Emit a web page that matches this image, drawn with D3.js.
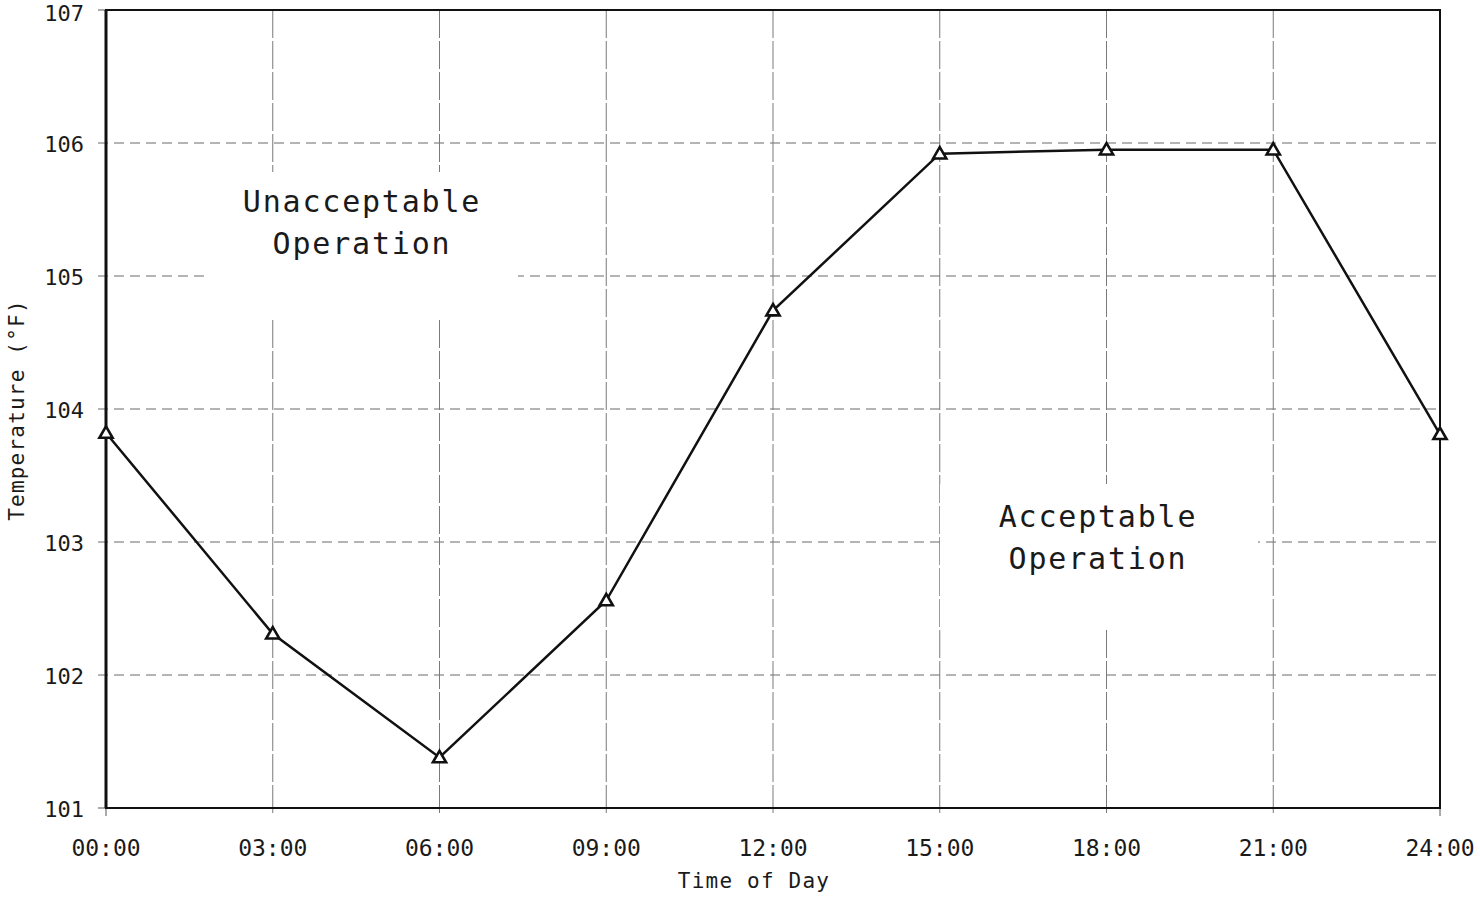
<!DOCTYPE html>
<html>
<head>
<meta charset="utf-8">
<script src="https://cdn.jsdelivr.net/npm/d3@7"></script>
<style>
  html, body { margin: 0; padding: 0; background: #fff; }
  svg { display: block; }
  text { font-family: "DejaVu Sans Mono", "Liberation Mono", monospace; fill: #1a1a1a; }
</style>
</head>
<body>
<svg id="chart" width="1480" height="898"></svg>
<script>
// Daily temperature profile, hours since midnight vs °F
const hours = [0, 3, 6, 9, 12, 15, 18, 21, 24];
const temps = [103.82, 102.31, 101.38, 102.56, 104.74, 105.92, 105.95, 105.95, 103.81];
const xTickLabels = ["00:00", "03:00", "06:00", "09:00", "12:00", "15:00", "18:00", "21:00", "24:00"];
const yTicks = [101, 102, 103, 104, 105, 106, 107];

const svg = d3.select("#chart");
const m = { left: 106, right: 1440, top: 10, bottom: 808 };

const x = d3.scaleLinear().domain([0, 24]).range([m.left, m.right]);
const y = d3.scaleLinear().domain([101, 107]).range([m.bottom, m.top]);

// Grid: dashed horizontals, nearly solid verticals, short ticks outside the frame
const grid = svg.append("g");
grid.selectAll("line.h").data(yTicks.slice(1, -1)).join("line")
  .attr("x1", m.left - 8).attr("x2", m.right)
  .attr("y1", d => y(d)).attr("y2", d => y(d))
  .attr("stroke", "#6a6a6a").attr("stroke-width", 1)
  .attr("stroke-dasharray", "10,6");
grid.selectAll("line.v").data(hours.slice(1, -1)).join("line")
  .attr("x1", d => x(d)).attr("x2", d => x(d))
  .attr("y1", m.top).attr("y2", m.bottom + 8)
  .attr("stroke", "#7a7a7a").attr("stroke-width", 1)
  .attr("stroke-dasharray", "28,3");
// ticks at the frame ends
grid.selectAll("line.yt").data([101, 107]).join("line")
  .attr("x1", m.left - 8).attr("x2", m.left)
  .attr("y1", d => y(d)).attr("y2", d => y(d))
  .attr("stroke", "#555").attr("stroke-width", 1);
grid.selectAll("line.xt").data([0, 24]).join("line")
  .attr("x1", d => x(d)).attr("x2", d => x(d))
  .attr("y1", m.bottom).attr("y2", m.bottom + 8)
  .attr("stroke", "#555").attr("stroke-width", 1);

// Region labels sit on white panels that break the grid
const regions = [
  { lines: ["Unacceptable", "Operation"], cx: 362, top: 172, x0: 205, x1: 518, bottom: 320, base: 212 },
  { lines: ["Acceptable", "Operation"], cx: 1098, top: 484, x0: 940, x1: 1258, bottom: 630, base: 527 }
];
regions.forEach(r => {
  svg.append("rect")
    .attr("x", r.x0).attr("y", r.top)
    .attr("width", r.x1 - r.x0).attr("height", r.bottom - r.top)
    .attr("fill", "#fff");
  r.lines.forEach((t, i) => {
    svg.append("text")
      .attr("x", r.cx).attr("y", r.base + i * 42)
      .attr("text-anchor", "middle")
      .attr("font-size", 30)
      .attr("letter-spacing", 1.8)
      .text(t);
  });
});

// Frame
svg.append("rect")
  .attr("x", m.left).attr("y", m.top)
  .attr("width", m.right - m.left).attr("height", m.bottom - m.top)
  .attr("fill", "none").attr("stroke", "#111").attr("stroke-width", 2);
svg.append("line")
  .attr("x1", m.left).attr("x2", m.left).attr("y1", m.top).attr("y2", m.bottom)
  .attr("stroke", "#111").attr("stroke-width", 3);

// Axis labels (the top one sits a touch lower so it clears the page edge)
svg.append("g").selectAll("text").data(yTicks).join("text")
  .attr("x", 84).attr("y", d => y(d) + (d === 107 ? 3 : 1)).attr("dy", "0.36em")
  .attr("text-anchor", "end").attr("font-size", 22)
  .attr("font-family", "'DejaVu Sans', sans-serif")
  .attr("font-weight", 300)
  .text(d => d);
svg.append("g").selectAll("text").data(hours).join("text")
  .attr("x", d => x(d)).attr("y", 856)
  .attr("text-anchor", "middle").attr("font-size", 23)
  .text((d, i) => xTickLabels[i]);

svg.append("text")
  .attr("x", (m.left + m.right) / 2 - 19).attr("y", 888)
  .attr("text-anchor", "middle").attr("font-size", 21).attr("letter-spacing", 1.2)
  .text("Time of Day");
svg.append("text")
  .attr("transform", "translate(24,410) rotate(-90)")
  .attr("text-anchor", "middle").attr("font-size", 21).attr("letter-spacing", 1.2)
  .text("Temperature (°F)");

// Series line and triangle markers
const pts = hours.map((h, i) => [h, temps[i]]);
svg.append("path")
  .datum(pts)
  .attr("d", d3.line().x(d => x(d[0])).y(d => y(d[1])))
  .attr("fill", "none").attr("stroke", "#111").attr("stroke-width", 2.5);

const tri = d3.symbol().type(d3.symbolTriangle).size(75);
svg.append("g").selectAll("path").data(pts).join("path")
  .attr("transform", d => `translate(${x(d[0])},${y(d[1]) + 1})`)
  .attr("d", tri)
  .attr("fill", "#fff").attr("stroke", "#111").attr("stroke-width", 2.6);
</script>
</body>
</html>
